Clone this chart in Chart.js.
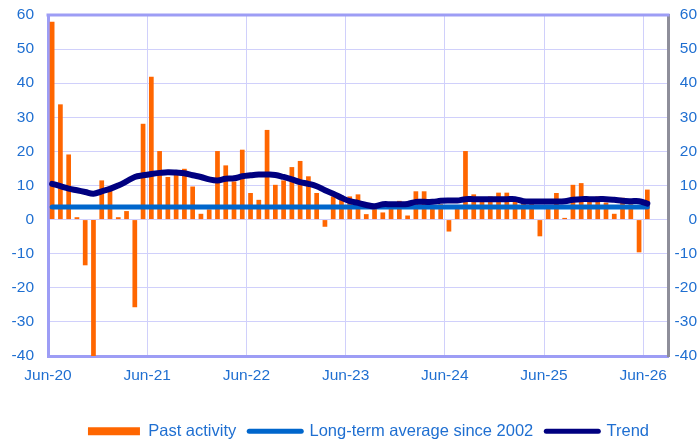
<!DOCTYPE html>
<html>
<head>
<meta charset="utf-8">
<script src="https://cdn.jsdelivr.net/npm/chart.js@4.4.1/dist/chart.umd.min.js"></script>
<style>
  html, body { margin: 0; padding: 0; background: #ffffff; }
  #wrap { width: 697px; height: 443px; }
</style>
</head>
<body>
<div id="wrap"><canvas id="activityChart" width="697" height="443"></canvas></div>
<script>
var months = [
    'Jun-20', 'Jul-20', 'Aug-20', 'Sep-20', 'Oct-20', 'Nov-20', 'Dec-20', 'Jan-21', 'Feb-21', 'Mar-21', 'Apr-21', 'May-21',
    'Jun-21', 'Jul-21', 'Aug-21', 'Sep-21', 'Oct-21', 'Nov-21', 'Dec-21', 'Jan-22', 'Feb-22', 'Mar-22', 'Apr-22', 'May-22',
    'Jun-22', 'Jul-22', 'Aug-22', 'Sep-22', 'Oct-22', 'Nov-22', 'Dec-22', 'Jan-23', 'Feb-23', 'Mar-23', 'Apr-23', 'May-23',
    'Jun-23', 'Jul-23', 'Aug-23', 'Sep-23', 'Oct-23', 'Nov-23', 'Dec-23', 'Jan-24', 'Feb-24', 'Mar-24', 'Apr-24', 'May-24',
    'Jun-24', 'Jul-24', 'Aug-24', 'Sep-24', 'Oct-24', 'Nov-24', 'Dec-24', 'Jan-25', 'Feb-25', 'Mar-25', 'Apr-25', 'May-25',
    'Jun-25', 'Jul-25', 'Aug-25', 'Sep-25', 'Oct-25', 'Nov-25', 'Dec-25', 'Jan-26', 'Feb-26', 'Mar-26', 'Apr-26', 'May-26',
    'Jun-26'
];

var pastActivity = [
    58.0, 33.8, 19.1, 0.7, -13.4, -41.0, 11.5, 9.7, 0.7, 2.5, -25.7, 28.1,
    41.9, 20.1, 12.5, 13.6, 14.9, 9.7, 1.7, 3.0, 20.1, 15.9, 11.2, 20.5,
    7.8, 5.8, 26.3, 10.2, 11.5, 15.4, 17.2, 12.7, 7.8, -2.1, 6.8, 5.8,
    6.8, 7.4, 1.6, 3.6, 2.1, 3.1, 5.5, 1.2, 8.3, 8.3, 4.0, 4.5,
    -3.5, 3.5, 20.1, 7.4, 5.5, 6.8, 7.9, 7.9, 6.0, 5.0, 5.0, -4.9,
    4.0, 7.8, 0.5, 10.2, 10.7, 5.5, 6.8, 5.0, 1.7, 6.4, 4.5, -9.6,
    8.8
];

var trend = [
    10.5, 9.8, 9.1, 8.6, 8.1, 7.6, 8.3, 9.0, 10.0, 11.2, 12.5, 13.0,
    13.4, 13.7, 13.9, 13.8, 13.6, 13.0, 12.5, 11.8, 11.5, 12.0, 12.1, 12.7,
    13.0, 13.2, 13.2, 13.1, 12.5, 11.8, 11.0, 10.5, 9.8, 8.6, 7.6, 6.4,
    5.4, 4.9, 4.3, 3.9, 4.5, 4.5, 4.5, 4.6, 5.2, 5.2, 5.2, 5.5,
    5.6, 5.6, 6.0, 6.0, 6.0, 6.0, 6.0, 6.0, 6.0, 5.4, 5.3, 5.3,
    5.3, 5.3, 5.4, 5.8, 6.0, 6.0, 6.0, 6.0, 5.8, 5.5, 5.4, 5.4,
    4.7
];

var longTermAverage = 3.7;

var tickMonths = [0, 12, 24, 36, 48, 60, 72];
var tickLabels = ['Jun-20', 'Jun-21', 'Jun-22', 'Jun-23', 'Jun-24', 'Jun-25', 'Jun-26'];

var textColor = '#1f6fd1';
var gridColor = '#d0d0fb';
var frameColor = '#9d9df5';
var fontFamily = "'Liberation Sans', Arial, sans-serif";

// each month sits in the middle of its slot on the axis
function toPoints(values) {
    return values.map(function (v, i) {
        return { x: i + 0.5, y: v };
    });
}

// fixed width for the value axes, no extra room for the end labels
function fixAxis(width) {
    return function (scale) {
        scale.width = width;
        scale.paddingTop = 0;
        scale.paddingBottom = 0;
    };
}

var frameTop = {
    id: 'frameTop',
    afterDraw: function (chart) {
        var area = chart.chartArea;
        var ctx = chart.ctx;
        ctx.save();
        ctx.strokeStyle = frameColor;
        ctx.lineWidth = 3;
        ctx.beginPath();
        ctx.moveTo(area.left - 1.5, area.top);
        ctx.lineTo(area.right + 1.5, area.top);
        ctx.stroke();
        ctx.restore();
    }
};

// legend row sits a bit right of the canvas centre
var legendShift = {
    id: 'legendShift',
    afterLayout: function (chart) {
        chart.legend.left += 20;
        chart.legend.right += 20;
    }
};

var ctx = document.getElementById('activityChart').getContext('2d');
var activityChart = new Chart(ctx, {
    data: {
        datasets: [{
            type: 'bar',
            label: 'Past activity',
            data: toPoints(pastActivity),
            backgroundColor: '#ff6600',
            borderWidth: 0,
            barPercentage: 0.57,
            categoryPercentage: 1,
            yAxisID: 'y',
            order: 3
        },
        {
            type: 'line',
            label: 'Long-term average since 2002',
            data: toPoints(months.map(function () { return longTermAverage; })),
            borderColor: '#0066cc',
            backgroundColor: '#0066cc',
            borderWidth: 5,
            borderCapStyle: 'round',
            pointRadius: 0,
            yAxisID: 'y',
            order: 2
        },
        {
            type: 'line',
            label: 'Trend',
            data: toPoints(trend),
            borderColor: '#000080',
            backgroundColor: '#000080',
            borderWidth: 6,
            borderCapStyle: 'round',
            borderJoinStyle: 'round',
            tension: 0.4,
            pointRadius: 0,
            yAxisID: 'y',
            order: 1
        }]
    },
    options: {
        responsive: false,
        animation: false,
        devicePixelRatio: 1,
        layout: {
            padding: { left: 0, right: 0, top: 15, bottom: 0 }
        },
        scales: {
            x: {
                type: 'linear',
                offset: false,
                min: 0,
                max: 75,
                afterBuildTicks: function (scale) {
                    scale.ticks = tickMonths.map(function (m) { return { value: m }; });
                },
                afterFit: function (scale) {
                    scale.height = 54;
                },
                ticks: {
                    autoSkip: false,
                    maxRotation: 0,
                    padding: 10,
                    color: textColor,
                    font: { family: fontFamily, size: 15.5 },
                    callback: function (value) {
                        return tickLabels[tickMonths.indexOf(value)];
                    }
                },
                grid: { color: gridColor, drawTicks: false, offset: false },
                border: { color: frameColor, width: 3 }
            },
            y: {
                position: 'left',
                min: -40,
                max: 60,
                afterFit: fixAxis(48),
                ticks: {
                    stepSize: 10,
                    padding: 14,
                    color: textColor,
                    font: { family: fontFamily, size: 15.5 }
                },
                grid: { color: gridColor, drawTicks: false },
                border: { color: frameColor, width: 3 }
            },
            y2: {
                position: 'right',
                min: -40,
                max: 60,
                afterFit: fixAxis(29),
                ticks: {
                    stepSize: 10,
                    padding: 5,
                    crossAlign: 'far',
                    color: textColor,
                    font: { family: fontFamily, size: 15.5 }
                },
                grid: { display: false, drawTicks: false },
                border: { color: '#8e8e9a', width: 3 }
            }
        },
        plugins: {
            tooltip: { enabled: false },
            legend: {
                position: 'bottom',
                maxHeight: 33,
                labels: {
                    usePointStyle: true,
                    pointStyleWidth: 52,
                    boxHeight: 8,
                    padding: 13,
                    color: textColor,
                    font: { family: fontFamily, size: 16.5 },
                    generateLabels: function (chart) {
                        return chart.data.datasets.map(function (ds, i) {
                            var isBar = ds.type === 'bar';
                            return {
                                text: ds.label,
                                datasetIndex: i,
                                fillStyle: ds.backgroundColor,
                                strokeStyle: isBar ? ds.backgroundColor : ds.borderColor,
                                lineWidth: isBar ? 0 : 5,
                                lineCap: 'round',
                                pointStyle: isBar ? 'rect' : 'line',
                                fontColor: textColor,
                                hidden: false
                            };
                        });
                    }
                }
            }
        }
    },
    plugins: [frameTop, legendShift]
});
</script>
</body>
</html>
